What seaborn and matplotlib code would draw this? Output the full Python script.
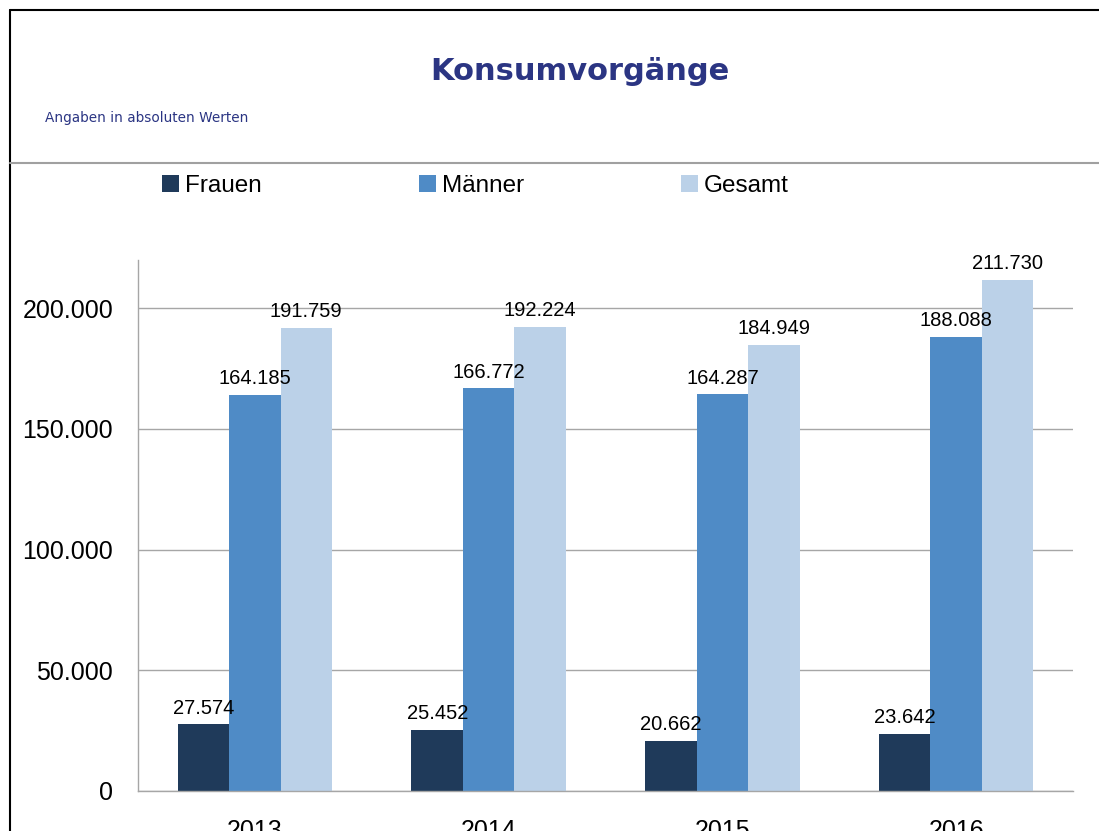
import matplotlib
matplotlib.use("Agg")
import matplotlib.pyplot as plt
from matplotlib.lines import Line2D
from matplotlib.ticker import FuncFormatter, FixedLocator
import pandas as pd
import seaborn as sns

# data
years = ["2013", "2014", "2015", "2016"]
groups = ["Frauen", "Männer", "Gesamt"]
frauen = [27574, 25452, 20662, 23642]
maenner = [164185, 166772, 164287, 188088]
gesamt = [191759, 192224, 184949, 211730]
colors = ["#1F3A5A", "#4F8BC6", "#BBD1E8"]

rows = []
for g, vals in zip(groups, [frauen, maenner, gesamt]):
    for y, v in zip(years, vals):
        rows.append({"Jahr": y, "Gruppe": g, "Wert": v})
df = pd.DataFrame(rows)


def de_fmt(v):
    return f"{int(round(v)):,}".replace(",", ".")


sns.set_style("white")
plt.rcParams["font.family"] = ["Liberation Sans", "DejaVu Sans"]

fig = plt.figure(figsize=(10.99, 8.31), dpi=100)
ax = fig.add_axes([138 / 1099, 40 / 831, (1073 - 138) / 1099, (791 - 260) / 831])

sns.barplot(data=df, x="Jahr", y="Wert", hue="Gruppe", palette=colors,
            width=0.66, saturation=1, ax=ax, errorbar=None, linewidth=0)

for cont in ax.containers:
    ax.bar_label(cont, labels=[de_fmt(b.get_height()) for b in cont],
                 padding=5, fontsize=14.5, color="black")

handles, labels = ax.get_legend_handles_labels()
ax.get_legend().remove()
fig.legend(handles, labels, loc="center left", bbox_to_anchor=(162 / 1099, 1 - 186 / 831),
           ncol=3, frameon=False, fontsize=17.5, handlelength=0.7, handleheight=0.7,
           handletextpad=0.25, columnspacing=6.45, borderpad=0, borderaxespad=0,
           labelcolor="black")

ax.set_ylim(0, 220000)
ax.set_xlim(-0.5, 3.5)
ax.yaxis.set_major_locator(FixedLocator([0, 50000, 100000, 150000, 200000]))
ax.yaxis.set_major_formatter(FuncFormatter(lambda v, p: de_fmt(v)))
ax.grid(axis="y", color="#A6A6A6", linewidth=1)
ax.set_axisbelow(True)
ax.set_xlabel("")
ax.set_ylabel("")
ax.tick_params(axis="y", length=0, pad=18, labelsize=18, labelcolor="black")
ax.tick_params(axis="x", which="major", length=0, pad=20, labelsize=18, labelcolor="black")
ax.xaxis.set_minor_locator(FixedLocator([-0.5, 0.5, 1.5, 2.5, 3.5]))
ax.tick_params(axis="x", which="minor", length=7, color="#A6A6A6", width=1, direction="out")
for s in ["top", "right"]:
    ax.spines[s].set_visible(False)
for s in ["left", "bottom"]:
    ax.spines[s].set_color("#A6A6A6")
    ax.spines[s].set_linewidth(1)

# title, subtitle, frame lines
fig.text(580 / 1099, 1 - 71 / 831, "Konsumvorgänge", ha="center", va="center",
         fontsize=22, fontweight="bold", color="#2B3583", family=["DejaVu Sans"])
fig.text(45 / 1099, 1 - 118 / 831, "Angaben in absoluten Werten", ha="left", va="center",
         fontsize=9.8, color="#2B3583", family=["DejaVu Sans"])
fig.add_artist(Line2D([10 / 1099, 1], [1 - 10 / 831, 1 - 10 / 831], color="black", linewidth=1.5))
fig.add_artist(Line2D([10 / 1099, 10 / 1099], [0, 1 - 10 / 831], color="black", linewidth=1.5))
fig.add_artist(Line2D([10 / 1099, 1], [1 - 163 / 831, 1 - 163 / 831], color="#A0A0A0", linewidth=1.5))

fig.savefig("out.png", dpi=100)
